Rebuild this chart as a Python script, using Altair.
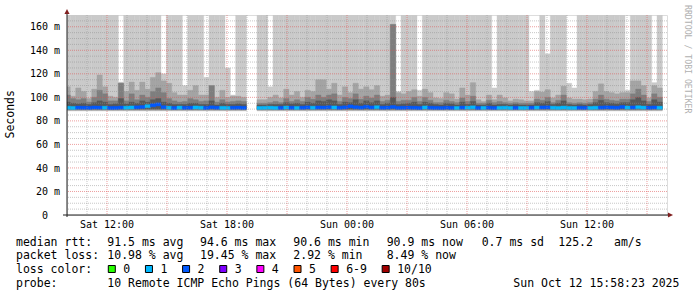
import altair as alt
import pandas as pd

# ---------------- data ----------------
BIN_START = "2025-10-11T09:54:00Z"   # 16-minute consolidated steps
BIN_MINUTES = 16
X_START = "2025-10-11T10:00:00Z"
X_END = "2025-10-12T16:00:00Z"

# smoke band tops (ms) per 16-min bin; None = no data
light_top = [
    170, 170, 170, 170, 170, 170, 170, 170, 170, 170,
    113, 170, 170, 170, 170, 170, 170, 170, 120, 170,
    170, 170, 110, 170, 170, 170, 117, 170, 170, 170,
    125, 102, 170, 170, None, None, 170, 170, 109, 170,
    170, 170, 170, 170, 170, 170, 170, 170, 170, 170,
    170, 170, 170, 170, 170, 170, 170, 170, 170, 170,
    170, 170, 105, 170, 170, 170, 106, 170, 170, 170,
    170, 170, 170, 170, 170, 170, 170, 170, 170, 170,
    108, 170, 170, 170, 170, 170, 170, 105, 106, 170,
    137, 170, 170, 170, 112, 108, 170, 170, 170, 170,
    170, 170, 170, 170, 170, 106, 170, 170, 170, 170,
    112.5, 170,
]
mid_top = [
    109, 101, 108, 105, 99, 107, 119, 109, 101, 100,
    112, 105, 113, 106, 113, 107, 117, 121, 114, 112,
    104, 102, 102, 106, 110, 102, 102, 110, 100, 106,
    100, 101, 101, 100, None, None, 98, 98, 100, 102,
    99.5, 107, 102, 105, 100, 106, 105, 115, 115, 107,
    112, 102, 109, 104, 112, 107, 109, 106.5, 110, 101,
    102, 162, 104, 103, 105, 106.5, 101, 107, 104, 99.5,
    99, 104, 103, 98.5, 108, 102, 112.5, 98, 96.5, 102,
    98, 102, 99.5, 97, 98.5, 98, 97, 97, 105, 104.5,
    106.5, 99.5, 102, 109.5, 99.5, 98.5, 98.5, 98, 98.5, 105,
    111.5, 105, 104, 103, 104, 104, 114, 114, 110, 99.5,
    110, 108,
]
dark_top = [
    102, 99, 98, 99, 96, 100, 106, 103, 97, 97,
    112, 97, 103, 98, 102, 100, 105, 108, 104, 99,
    97, 96, 96.5, 99, 98, 96.5, 97, 110, 96, 98,
    96, 96.5, 97, 96.5, None, None, 95, 95, 95.5, 96.5,
    95.5, 99, 96.5, 98, 96.5, 100, 98.5, 102, 100, 102,
    103, 96.5, 100, 99, 103, 98.5, 101, 99.5, 102, 96.5,
    97.5, 162, 96.5, 97.5, 97.5, 100, 96.5, 100, 97.5, 95.5,
    95.5, 97.5, 96.5, 95.5, 99.5, 96.5, 101, 95, 95, 97.5,
    95.5, 96.5, 95.5, 95, 95.5, 95, 95, 95, 98.5, 97.5,
    100, 95.5, 97.5, 102, 95.5, 95, 95.5, 95, 95.5, 98.5,
    102, 98.5, 97.5, 97, 98.5, 98.5, 103, 107, 102, 96.5,
    103, 100,
]
darker_top = [
    96, 95, 94.5, 95, 94, 95.5, 97, 96, 94, 94.5,
    99, 94.5, 96, 95, 97, 96, 98, 99, 96, 95,
    94, 94, 94, 95, 95, 94, 94, 97, 93.5, 95,
    94, 94, 94.5, 94, None, None, 93.5, 93.5, 94, 94,
    94, 95.5, 94.5, 95, 94, 96, 95, 97, 96.5, 98,
    97, 94, 96, 95.5, 98, 95, 97, 95.5, 97, 94,
    95, 100, 94, 94.5, 95, 96, 94, 96, 95, 94,
    93.5, 95, 94.5, 93.5, 96, 94, 96.5, 93.5, 93.5, 95,
    93.5, 94, 94, 93.5, 94, 93.5, 93.5, 93.5, 95.5, 95,
    96.5, 94, 95, 97, 94, 93.5, 94, 93.5, 94, 95.5,
    97.5, 95.5, 95, 94.5, 95.5, 95.5, 98, 100, 97, 94,
    98, 96,
]
median_rtt = [
    91.2, 91.0, 91.3, 91.2, 91.1, 91.4, 91.3, 91.2, 91.0, 91.1,
    91.3, 91.2, 91.4, 91.5, 91.8, 92.5, 93.3, 94.0, 91.6, 91.2,
    91.0, 91.3, 91.1, 91.2, 91.4, 91.2, 91.0, 91.5, 91.2, 91.1,
    91.0, 91.2, 91.3, 91.1, None, None, 91.0, 91.1, 91.2, 91.0,
    91.1, 91.3, 91.2, 91.0, 91.2, 91.5, 91.2, 91.4, 91.3, 91.6,
    91.4, 91.2, 91.5, 92.3, 91.6, 91.3, 92.0, 91.4, 91.6, 91.2,
    91.3, 91.8, 91.1, 91.2, 91.3, 91.2, 91.0, 91.4, 91.2, 91.1,
    91.0, 91.2, 91.1, 91.0, 91.3, 91.2, 91.5, 91.0, 91.1, 91.2,
    91.0, 91.1, 91.2, 91.0, 91.1, 91.0, 91.0, 91.2, 91.3, 91.4,
    91.5, 91.2, 91.0, 91.3, 91.0, 91.0, 91.2, 91.1, 91.0, 91.2,
    91.3, 91.5, 91.4, 91.2, 91.8, 91.3, 91.4, 91.6, 91.3, 91.2,
    91.4, 91.2,
]
loss_count = [
    1, 1, 2, 2, 2, 2, 2, 1, 2, 2,
    2, 1, 1, 2, 2, 1, 2, 2, 2, 1,
    2, 1, 2, 2, 1, 1, 2, 2, 2, 1,
    1, 2, 2, 2, None, None, 1, 1, 1, 1,
    2, 1, 2, 1, 2, 2, 1, 2, 2, 2,
    1, 2, 2, 2, 2, 2, 2, 2, 1, 2,
    2, 2, 2, 2, 2, 2, 2, 1, 2, 2,
    2, 2, 2, 1, 2, 1, 1, 2, 1, 2,
    2, 1, 1, 1, 2, 1, 1, 2, 1, 2,
    2, 1, 1, 1, 1, 1, 2, 2, 1, 1,
    2, 2, 2, 2, 2, 1, 2, 1, 1, 2,
    2, 1,
]
band_low = {"light": 88.4, "mid": 89.0, "dark": 89.6, "darker": 90.1}

loss_labels = ["0", "1", "2", "3", "4", "5", "6-9", "10/10"]
loss_colors = ["#26ff00", "#00b8ff", "#0059ff", "#7e00ff", "#ff00ff", "#ff5500", "#ff0000", "#a10000"]

y_major = [0, 20, 40, 60, 80, 100, 120, 140, 160]
y_major_labels = ["0", "20 m", "40 m", "60 m", "80 m", "100 m", "120 m", "140 m", "160 m"]
y_minor = [5, 10, 15, 25, 30, 35, 45, 50, 55, 65, 70, 75, 85, 90, 95, 105, 110, 115,
           125, 130, 135, 145, 150, 155, 165]
x_label_times = ["2025-10-11T12:00:00Z", "2025-10-11T18:00:00Z", "2025-10-12T00:00:00Z",
                 "2025-10-12T06:00:00Z", "2025-10-12T12:00:00Z"]
x_label_texts = ["Sat 12:00", "Sat 18:00", "Sun 00:00", "Sun 06:00", "Sun 12:00"]

stats_rtt = [("median rtt:", 16), ("91.5 ms avg", 107.3), ("94.6 ms max", 200), ("90.6 ms min", 293.3),
             ("90.9 ms now", 386.7), ("0.7 ms sd", 481.7), ("125.2", 558.3), ("am/s", 614)]
stats_loss = [("packet loss:", 16), ("10.98 % avg", 107.3), ("19.45 % max", 200), ("2.92 % min", 293.3),
              ("8.49 % now", 386.7)]
probe_row = [("probe:", 16), ("10 Remote ICMP Echo Pings (64 Bytes) every 80s", 107.3),
             ("Sun Oct 12 15:58:23 2025", 513.3)]

# ---------------- helpers ----------------
MONO = "DejaVu Sans Mono"
W, H = 600, 200
LEFT, TOP = 67, 15
CHAR = 6.94


def ms(ts):
    return int(pd.Timestamp(ts).value // 10**6)


n = len(median_rtt)
t0 = [ms(BIN_START) + k * BIN_MINUTES * 60000 for k in range(n)]
t1 = [t + BIN_MINUTES * 60000 for t in t0]

XS = alt.Scale(type="utc", domain=[ms(X_START), ms(X_END)])
YS = alt.Scale(domain=[0, 170], nice=False, zero=False)
dummy = alt.Data(values=[{"a": 1}])


def band(top, lo, color):
    df = pd.DataFrame({"t0": t0, "t1": t1, "top": top}).dropna()
    df["lo"] = lo
    return alt.Chart(df).mark_rect(color=color, stroke=color, strokeWidth=0.4, clip=True).encode(
        x=alt.X("t0:T", scale=XS, axis=None), x2="t1:T",
        y=alt.Y("lo:Q", scale=YS, axis=None), y2="top:Q")


def txt(text, x, y, size=11.5, color="#000000", align="left", angle=0, baseline="alphabetic"):
    return alt.Chart(dummy).mark_text(text=text, font=MONO, fontSize=size, color=color,
                                      align=align, baseline=baseline, angle=angle).encode(
        x=alt.value(x - LEFT), y=alt.value(y - TOP))


layers = []
layers.append(band(light_top, band_low["light"], "#cacaca"))
layers.append(band(mid_top, band_low["mid"], "#a4a4a4"))
layers.append(band(dark_top, band_low["dark"], "#7e7e7e"))
layers.append(band(darker_top, band_low["darker"], "#585858"))

# median line coloured by loss
mdf = pd.DataFrame({"t0": t0, "t1": t1, "m": median_rtt, "loss": loss_count}).dropna()
mdf["lo"] = mdf["m"] - 1.3
mdf["hi"] = mdf["m"] + 1.3
mdf["lab"] = mdf["loss"].astype(int).astype(str)
layers.append(alt.Chart(mdf).mark_rect(clip=True, strokeWidth=0.4).encode(
    x=alt.X("t0:T", scale=XS, axis=None), x2="t1:T",
    y=alt.Y("lo:Q", scale=YS, axis=None), y2="hi:Q",
    color=alt.Color("lab:N", scale=alt.Scale(domain=loss_labels, range=loss_colors), legend=None),
    stroke=alt.Stroke("lab:N", scale=alt.Scale(domain=loss_labels, range=loss_colors), legend=None)))

# grid (drawn over data like rrdtool)
hours = pd.date_range("2025-10-11T11:00:00Z", "2025-10-12T15:00:00Z", freq="h")
x_minor = [ms(h) for h in hours if h.hour % 3 != 0]
x_major = [ms(h) for h in hours if h.hour % 3 == 0]

layers.append(alt.Chart(pd.DataFrame({"v": y_minor})).mark_rule(
    color="#8f8f8f", opacity=0.5, strokeDash=[1, 1], strokeWidth=1).encode(y=alt.Y("v:Q", scale=YS, axis=None)))
layers.append(alt.Chart(pd.DataFrame({"t": x_minor})).mark_rule(
    color="#8f8f8f", opacity=0.5, strokeDash=[1, 1], strokeWidth=1).encode(x=alt.X("t:T", scale=XS, axis=None)))
layers.append(alt.Chart(pd.DataFrame({"v": y_major[1:]})).mark_rule(
    color="#de5050", opacity=0.55, strokeDash=[1, 1], strokeWidth=1).encode(y=alt.Y("v:Q", scale=YS, axis=None)))
layers.append(alt.Chart(pd.DataFrame({"t": x_major})).mark_rule(
    color="#de5050", opacity=0.55, strokeDash=[1, 1], strokeWidth=1).encode(x=alt.X("t:T", scale=XS, axis=None)))

# axes lines and arrows
layers.append(alt.Chart(dummy).mark_rule(color="#1f1f1f", strokeWidth=1).encode(
    x=alt.value(0), y=alt.value(H + 2), y2=alt.value(-3)))
layers.append(alt.Chart(dummy).mark_rule(color="#1f1f1f", strokeWidth=1).encode(
    x=alt.value(-4), x2=alt.value(W + 1), y=alt.value(H)))
layers.append(alt.Chart(dummy).mark_point(shape="M0,-1L1,1L-1,1Z", filled=True, size=26, opacity=1,
                                          color="#801f1f").encode(x=alt.value(0), y=alt.value(-3.5)))
layers.append(alt.Chart(dummy).mark_point(shape="M1,0L-1,-1L-1,1Z", filled=True, size=26, opacity=1,
                                          color="#801f1f").encode(x=alt.value(W + 3.5), y=alt.value(H)))

# y tick labels
ylab = pd.DataFrame({"v": y_major, "lab": y_major_labels})
ylab["px"] = [48 - LEFT if v == 0 else 60 - LEFT for v in y_major]
for v, lab in zip(y_major, y_major_labels):
    xr = 48 if v == 0 else 60
    layers.append(alt.Chart(pd.DataFrame({"v": [v]})).mark_text(
        text=lab, font=MONO, fontSize=10, align="right", baseline="alphabetic", dy=3.6, color="#000000").encode(
        x=alt.value(xr - LEFT), y=alt.Y("v:Q", scale=YS, axis=None)))

# x labels
xl = pd.DataFrame({"t": [ms(t) for t in x_label_times], "lab": x_label_texts})
layers.append(alt.Chart(xl).mark_text(font=MONO, fontSize=10, align="center", baseline="alphabetic",
                                      color="#000000").encode(
    x=alt.X("t:T", scale=XS, axis=None), y=alt.value(228.3 - TOP), text="lab:N"))

# axis title and watermark
layers.append(txt("Seconds", 14, 114.3, angle=270, align="center"))
layers.append(txt("RRDTOOL / TOBI OETIKER", 685, 59.2, size=8.2, color="#b0b0b0", angle=90, align="center"))

# legend rows
for s, x in stats_rtt:
    layers.append(txt(s, x, 245.5))
for s, x in stats_loss:
    layers.append(txt(s, x, 259.3))
layers.append(txt("loss color:", 16, 273))
bx = 108.3
for lab, col in zip(loss_labels, loss_colors):
    layers.append(alt.Chart(dummy).mark_rect(fill=col, stroke="#000000", strokeWidth=1).encode(
        x=alt.value(bx - LEFT), x2=alt.value(bx + 7 - LEFT), y=alt.value(265.5 - TOP), y2=alt.value(272.5 - TOP)))
    layers.append(txt(lab, bx + 15, 273))
    bx += 15 + len(lab) * CHAR + 15.2
for s, x in probe_row:
    layers.append(txt(s, x, 286.8))

chart = alt.layer(*layers).properties(
    width=W, height=H,
    padding={"left": LEFT, "top": TOP, "right": 697 - LEFT - W, "bottom": 297 - TOP - H},
    autosize=alt.AutoSizeParams(type="none"),
).configure_view(strokeWidth=0).configure(background="white")

chart.save("out.html", embed_options={"renderer": "svg", "actions": False})
